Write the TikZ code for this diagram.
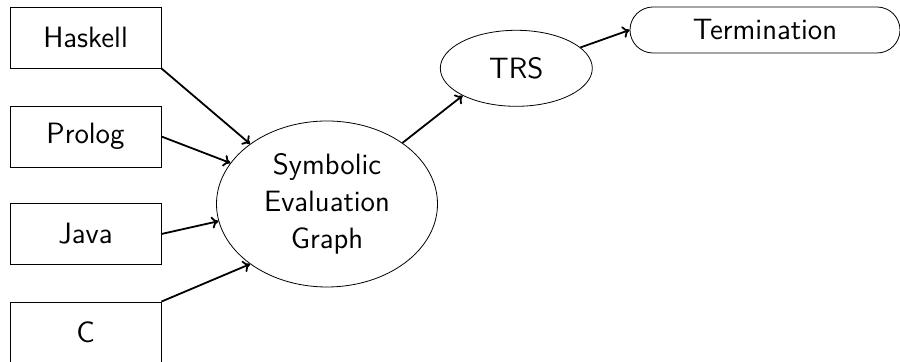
\documentclass[tikz,border=0pt]{standalone}
\usetikzlibrary{shapes.geometric,shapes.misc,arrows.meta}
\begin{document}
\begin{tikzpicture}[x=0.5pt,y=-0.5pt,
  every node/.style={font=\sffamily\fontsize{14.7}{18.5}\selectfont, draw, line width=0.4pt, inner sep=0pt, align=center},
  srcbox/.style={rectangle, minimum width=75.5pt, minimum height=30.5pt},
  ell/.style={ellipse},
  term/.style={rounded rectangle, minimum width=135pt, minimum height=23pt},
  conn/.style={-{To[length=3.5pt,width=6pt]}, line width=0.9pt}
]
\useasboundingbox (0,0) rectangle (900,362);
\node[srcbox] (haskell) at (85.5,37.5) {Haskell};
\node[srcbox] (prolog) at (85.5,136.5) {Prolog};
\node[srcbox] (java) at (85.5,234) {Java};
\node[srcbox] (c) at (85.5,332.5) {C};
\node[ell, minimum width=110.5pt, minimum height=83pt] (seg) at (327,204) {Symbolic\\Evaluation\\Graph};
\node[ell, minimum width=76pt, minimum height=38pt] (trs) at (516.3,68.3) {TRS};
\node[term] (term) at (765,30) {Termination};
\draw[conn] (haskell.south east) -- (seg.142);
\draw[conn] (prolog.east) -- (seg.157);
\draw[conn] (java.east) -- (seg.189);
\draw[conn] (c.north east) -- (seg.218);
\draw[conn] (seg.39) -- (trs.207);
\draw[conn] (trs.18) -- (term.west);
\end{tikzpicture}
\end{document}
